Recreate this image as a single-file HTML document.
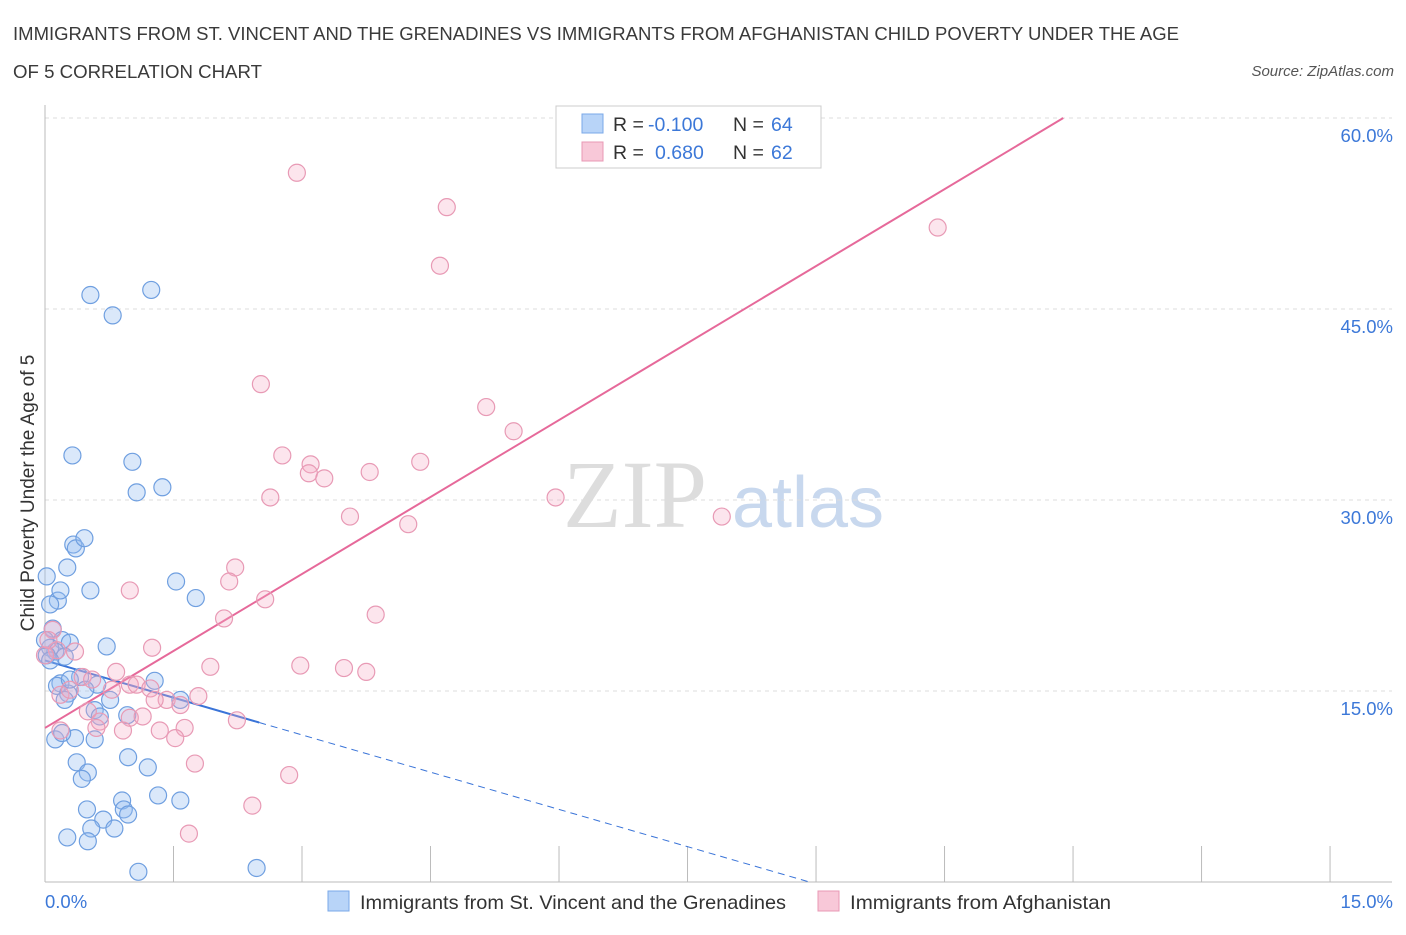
<!DOCTYPE html>
<html><head><meta charset="utf-8">
<style>
body{margin:0;background:#fff;font-family:"Liberation Sans",sans-serif;}
svg text{font-family:"Liberation Sans",sans-serif;}
svg text.serif{font-family:"Liberation Serif",serif;}
</style></head>
<body>
<svg id="chart" width="1406" height="930" xmlns="http://www.w3.org/2000/svg">
<text x="13" y="40" font-size="18.5" fill="#3a3a3a" textLength="1166" lengthAdjust="spacingAndGlyphs">IMMIGRANTS FROM ST. VINCENT AND THE GRENADINES VS IMMIGRANTS FROM AFGHANISTAN CHILD POVERTY UNDER THE AGE</text>
<text x="13" y="78" font-size="18.5" fill="#3a3a3a" textLength="249" lengthAdjust="spacingAndGlyphs">OF 5 CORRELATION CHART</text>
<text x="1394" y="76" font-size="15" fill="#555" text-anchor="end" font-style="italic">Source: ZipAtlas.com</text>
<text transform="translate(34,493) rotate(-90)" font-size="19" fill="#333" text-anchor="middle">Child Poverty Under the Age of 5</text>
<g>
<text class="serif" x="635" y="527" font-size="96" fill="#ddd" text-anchor="middle">ZIP</text>
<text x="808" y="527" font-size="72" fill="#c8d8ee" text-anchor="middle">atlas</text>
</g>
<g id="grid"></g><g id="axes"></g><g id="lines"></g><g id="points"></g>
<g>
<rect x="556" y="106" width="265" height="62" fill="#fff" stroke="#ccc"/>
<rect x="582" y="114" width="21" height="19" fill="#b8d4f8" stroke="#7aa8e8"/>
<rect x="582" y="142" width="21" height="19" fill="#f8c8d8" stroke="#e898b5"/>
<text x="613" y="131" font-size="19.5" fill="#333">R =</text>
<text x="648" y="131" font-size="19.5" fill="#3c78d8">-0.100</text>
<text x="733" y="131" font-size="19.5" fill="#333">N =</text>
<text x="771" y="131" font-size="19.5" fill="#3c78d8">64</text>
<text x="613" y="159" font-size="19.5" fill="#333">R =</text>
<text x="655" y="159" font-size="19.5" fill="#3c78d8">0.680</text>
<text x="733" y="159" font-size="19.5" fill="#333">N =</text>
<text x="771" y="159" font-size="19.5" fill="#3c78d8">62</text>
</g>
<g>
<rect x="328" y="891" width="21" height="20" fill="#b8d4f8" stroke="#7aa8e8"/>
<text x="360" y="909" font-size="19.5" fill="#333" textLength="426" lengthAdjust="spacingAndGlyphs">Immigrants from St. Vincent and the Grenadines</text>
<rect x="818" y="891" width="21" height="20" fill="#f8c8d8" stroke="#e898b5"/>
<text x="850" y="909" font-size="19.5" fill="#333" textLength="261" lengthAdjust="spacingAndGlyphs">Immigrants from Afghanistan</text>
</g>
</svg>
<script>
const yTicks=[15,30,45,60];
const yTickLabels=["15.0%","30.0%","45.0%","60.0%"];
const xTicks=[0,1.5,3,4.5,6,7.5,9,10.5,12,13.5,15];
const blueX=[.53,1.24,.79,.32,1.02,1.07,1.37,.33,.36,.46,.26,.02,.53,.15,.06,1.53,1.76,.09,.2,.29,.06,.12,.72,.02,.23,.41,.18,.14,.61,1.28,.27,.23,1.58,.58,.64,.96,.12,.35,.58,.2,.97,.37,1.2,.5,.43,1.32,.9,1.58,.49,.92,.97,.68,.54,.81,.26,.5,1.09,2.47,0,.18,.06,.29,.47,.76];
const blueY=[46.1,46.5,44.5,33.5,33.0,30.6,31.0,26.5,26.2,27.0,24.7,24.0,22.9,22.1,21.8,23.6,22.3,19.9,19.0,18.8,18.4,18.1,18.5,17.8,17.7,16.1,15.6,15.4,15.5,15.8,14.8,14.3,14.3,13.5,13.0,13.1,11.2,11.3,11.2,11.7,9.8,9.4,9.0,8.6,8.1,6.8,6.4,6.4,5.7,5.7,5.3,4.9,4.2,4.2,3.5,3.2,0.8,1.1,19.0,22.9,17.4,15.9,15.1,14.3];
const pinkX=[2.94,4.69,4.61,10.42,2.52,5.15,5.47,2.77,3.1,4.38,3.79,3.08,3.26,2.63,5.96,3.56,4.24,7.9,2.22,2.15,.99,2.57,3.86,2.09,1.25,.09,.14,2.98,3.49,3.75,1.93,.83,.44,.99,.78,1.07,1.23,1.42,1.58,1.79,.18,.29,1.28,.5,.64,.99,2.24,1.14,.91,1.34,.6,1.63,1.52,.18,1.75,2.85,2.42,1.68,.35,0,.04,.55];
const pinkY=[55.7,53.0,48.4,51.4,39.1,37.3,35.4,33.5,32.8,33.0,32.2,32.1,31.7,30.2,30.2,28.7,28.1,28.7,24.7,23.6,22.9,22.2,21.0,20.7,18.4,19.8,18.2,17.0,16.8,16.5,16.9,16.5,16.1,15.5,15.1,15.5,15.2,14.3,13.9,14.6,14.7,15.1,14.3,13.4,12.6,12.9,12.7,13.0,11.9,11.9,12.1,12.1,11.3,11.9,9.3,8.4,6.0,3.8,18.1,17.8,19.0,15.9];
const blueTrend=[17.4,-1.95];
const pinkTrend=[12.1,4.03];
const NS="http://www.w3.org/2000/svg";
const X=v=>45+v*85.67, Y=v=>882-v*12.733;
function mk(p,t,a){const e=document.createElementNS(NS,t);for(const k in a)e.setAttribute(k,a[k]);document.getElementById(p).appendChild(e);return e;}
yTicks.forEach((t,i)=>{
 const g=mk('grid','line',{x1:45,x2:1392,y1:Y(t),y2:Y(t),stroke:'#ddd','stroke-dasharray':'4,4'});
 
 
 const l=mk('axes','text',{x:1393,y:Y(t)+24,'font-size':18.5,fill:'#3c78d8','text-anchor':'end'});
 l.textContent=yTickLabels[i];
 
 
});
const ax=mk('axes','line',{x1:45,x2:1392,y1:882,y2:882,stroke:'#bbb'});


const ay=mk('axes','line',{x1:45,x2:45,y1:105,y2:882,stroke:'#bbb'});


xTicks.forEach(t=>{const k=mk('axes','line',{x1:X(t),x2:X(t),y1:846,y2:882,stroke:'#bbb'});
 
 });
const xl0=mk('axes','text',{x:45,y:908,'font-size':18.5,fill:'#3c78d8'});xl0.textContent='0.0%';


const xl1=mk('axes','text',{x:1393,y:908,'font-size':18.5,fill:'#3c78d8','text-anchor':'end'});xl1.textContent='15.0%';


blueX.forEach((x,i)=>{const c=mk('points','circle',{cx:X(x),cy:Y(blueY[i]),r:8.5,fill:'rgba(150,190,240,0.35)',stroke:'#6f9fe0','stroke-width':1.2});
 
 });
pinkX.forEach((x,i)=>{const c=mk('points','circle',{cx:X(x),cy:Y(pinkY[i]),r:8.5,fill:'rgba(245,170,195,0.3)',stroke:'#e89ab5','stroke-width':1.2});
 
 });
const bx0=0,bx1=2.5,bxe=-blueTrend[0]/blueTrend[1];
const bl=mk('lines','line',{x1:X(bx0),y1:Y(blueTrend[0]),x2:X(bx1),y2:Y(blueTrend[0]+blueTrend[1]*bx1),stroke:'#3a74d8','stroke-width':2});


const bd=mk('lines','line',{x1:X(bx1),y1:Y(blueTrend[0]+blueTrend[1]*bx1),x2:X(bxe),y2:Y(0),stroke:'#3a74d8','stroke-width':1,'stroke-dasharray':'7,5'});


const pxe=(60-pinkTrend[0])/pinkTrend[1];
const pl=mk('lines','line',{x1:X(0),y1:Y(pinkTrend[0]),x2:X(pxe),y2:Y(60),stroke:'#e6699a','stroke-width':2});


</script>
</body></html>
